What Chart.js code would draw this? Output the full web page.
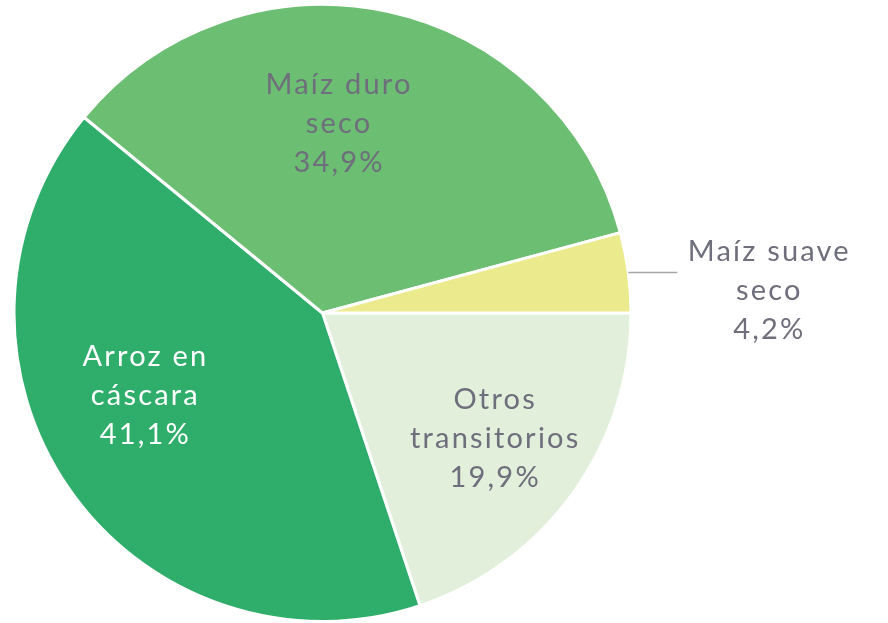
<!DOCTYPE html>
<html>
<head>
<meta charset="utf-8">
<script src="https://cdn.jsdelivr.net/npm/chart.js@4"></script>
<style>
  html, body { margin: 0; padding: 0; background: #fff; overflow: hidden; }
</style>
</head>
<body>
<canvas id="chart" width="888" height="623"></canvas>
<script>
const categories = [['Otros', 'transitorios'], ['Arroz en', 'cáscara'], ['Maíz duro', 'seco'], ['Maíz suave', 'seco']];
const shares = [19.9, 41.1, 34.9, 4.2];
const sliceColors = ['#E2EFDA', '#2FAE6B', '#6BBE72', '#EBEB8E'];
const labelColors = ['#6E6E7C', '#FFFFFF', '#6E6E7C', '#6E6E7C'];

// label placement: [distance as fraction of radius, dx, dy]; last one sits outside
const labelPlace = [[0.69, 0, 1], [0.63, -17, -28], [0.61, -23, -5], [null, 0, 0]];

const sliceLabels = {
  id: 'sliceLabels',
  afterDatasetsDraw(chart) {
    const ctx = chart.ctx;
    const arcs = chart.getDatasetMeta(0).data;
    ctx.save();
    ctx.font = '29px Lato, "DejaVu Sans", sans-serif';
    ctx.letterSpacing = '2.2px';
    ctx.textAlign = 'center';
    ctx.textBaseline = 'middle';
    arcs.forEach((arc, i) => {
      const mid = (arc.startAngle + arc.endAngle) / 2;
      const lines = categories[i].concat([shares[i].toFixed(1).replace('.', ',') + '%']);
      let x, y;
      if (labelPlace[i][0] === null) {
        // outside label with leader line
        const ly = arc.y + arc.outerRadius * Math.sin(mid);
        const lx = arc.x + arc.outerRadius * Math.cos(mid);
        ctx.strokeStyle = '#A6A6A6';
        ctx.lineWidth = 1.5;
        ctx.beginPath();
        ctx.moveTo(lx, ly);
        ctx.lineTo(lx + 49, ly);
        ctx.stroke();
        x = lx + 141;
        y = ly + 18;
      } else {
        const r = arc.outerRadius * labelPlace[i][0];
        x = arc.x + r * Math.cos(mid) + labelPlace[i][1];
        y = arc.y + r * Math.sin(mid) + labelPlace[i][2];
      }
      ctx.fillStyle = labelColors[i];
      const lh = 39;
      lines.forEach((t, k) => {
        ctx.fillText(t, x, y + (k - (lines.length - 1) / 2) * lh);
      });
    });
    ctx.restore();
  }
};

new Chart(document.getElementById('chart'), {
  type: 'pie',
  data: {
    labels: categories.map(c => c.join(' ')),
    datasets: [{
      data: shares,
      backgroundColor: sliceColors,
      borderColor: '#FFFFFF',
      borderWidth: 3
    }]
  },
  options: {
    responsive: false,
    animation: false,
    rotation: 90,
    layout: { padding: { left: 11, right: 254, top: 3, bottom: 0 } },
    plugins: {
      legend: { display: false },
      tooltip: { enabled: false }
    }
  },
  plugins: [sliceLabels]
});
</script>
</body>
</html>
